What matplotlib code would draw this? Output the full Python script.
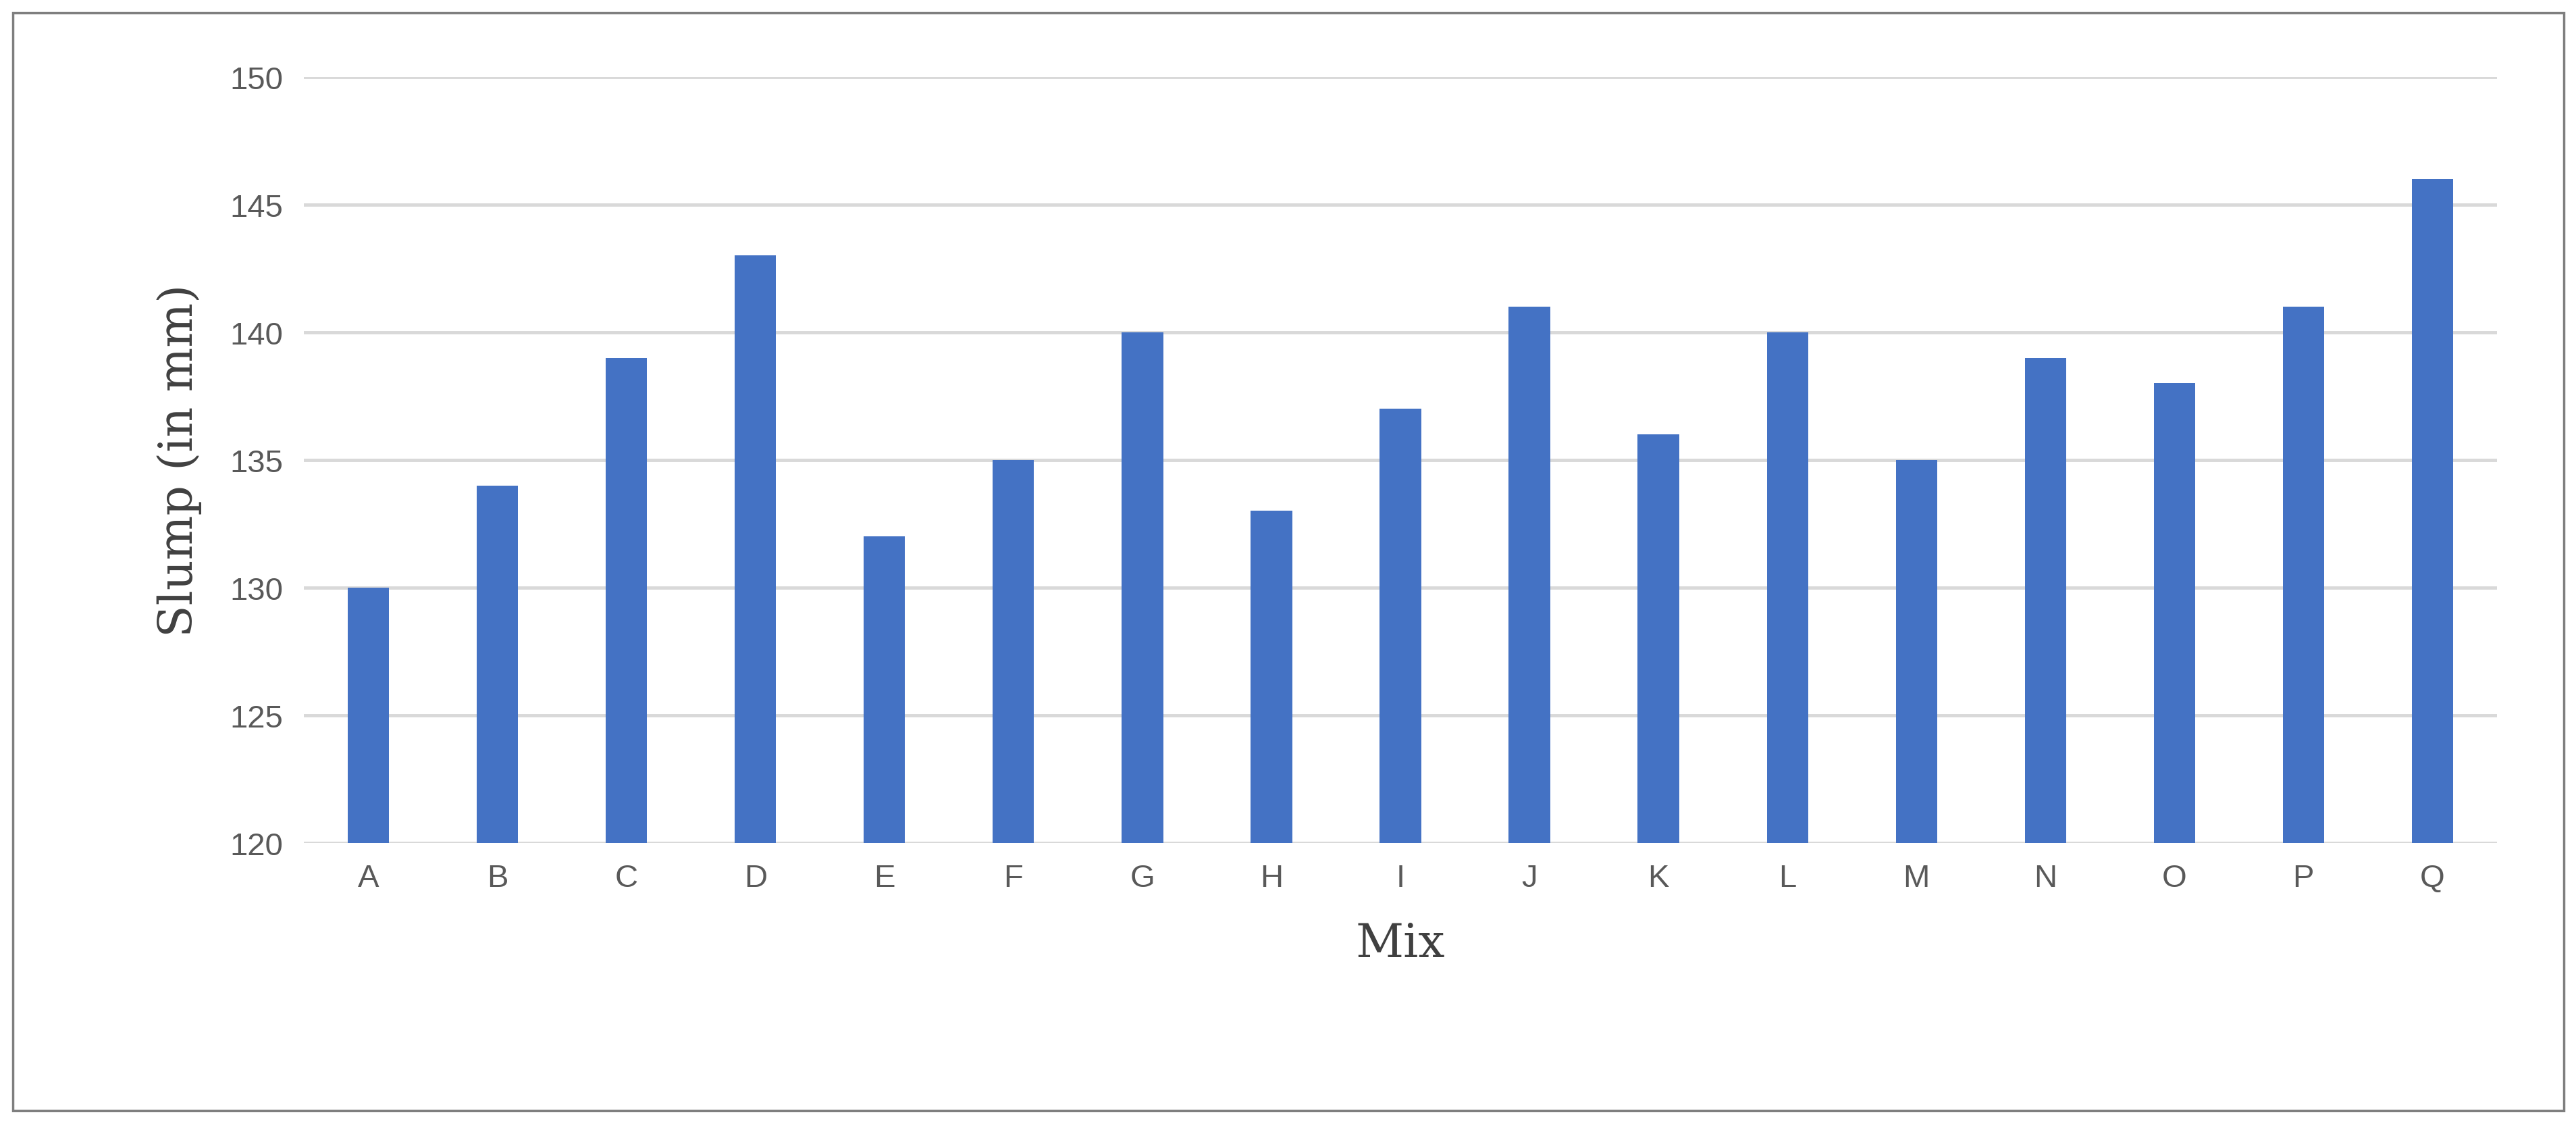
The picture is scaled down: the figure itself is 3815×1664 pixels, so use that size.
import matplotlib
matplotlib.use('Agg')
import matplotlib.pyplot as plt
from matplotlib.patches import Rectangle

mixes = list('ABCDEFGHIJKLMNOPQ')
slump = [130, 134, 139, 143, 132, 135, 140, 133, 137, 141, 136, 140, 135, 139, 138, 141, 146]
yticks = [120, 125, 130, 135, 140, 145, 150]

fig = plt.figure(figsize=(38.16, 16.65), dpi=100)
ax = fig.add_axes([0.118, 0.25, 0.851, 0.681])

# outer border like the exported chart frame
fig.patches.append(Rectangle((0.005, 0.012), 0.99, 0.976, transform=fig.transFigure,
                             fill=False, edgecolor='#7f7f7f', linewidth=2.5))

ax.bar(mixes, slump, width=0.32, color='#4472c4', zorder=3)
ax.set_ylim(120, 150)
ax.set_xlim(-0.5, len(mixes) - 0.5)
ax.set_yticks(yticks)
ax.grid(axis='y', color='#d9d9d9', linewidth=3.5, zorder=0)
for s in ax.spines.values():
    s.set_visible(False)
ax.tick_params(length=0, labelsize=34, labelcolor='#595959', pad=22)
for lab in ax.get_xticklabels() + ax.get_yticklabels():
    lab.set_family(['Liberation Sans', 'DejaVu Sans'])

ax.set_xlabel('Mix', fontsize=50, color='#404040', family='DejaVu Serif', labelpad=30)
ax.set_ylabel('Slump (in mm)', fontsize=50, color='#404040', family='DejaVu Serif', labelpad=30)

fig.savefig('out.png', dpi=100)
